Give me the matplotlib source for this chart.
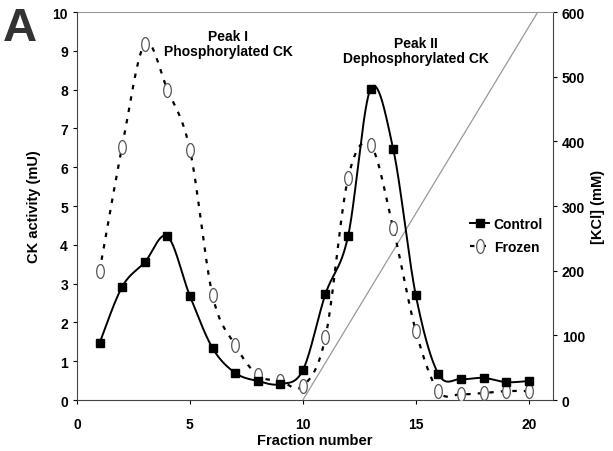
import numpy as np
import matplotlib
matplotlib.use("Agg")
import matplotlib.pyplot as plt
from matplotlib.path import Path
from matplotlib.lines import Line2D

plt.rcParams['font.family'] = ['Liberation Sans', 'DejaVu Sans']
plt.rcParams['font.weight'] = 'bold'

fraction = np.arange(1, 21)
control = [1.47, 2.92, 3.55, 4.22, 2.68, 1.34, 0.7, 0.49, 0.41, 0.77,
           2.73, 4.22, 8.02, 6.47, 2.7, 0.67, 0.54, 0.57, 0.46, 0.49]
frozen = [3.32, 6.53, 9.18, 8.0, 6.45, 2.7, 1.42, 0.64, 0.49, 0.36,
          1.62, 5.72, 6.57, 4.43, 1.78, 0.23, 0.15, 0.18, 0.23, 0.23]
kcl_x = [10, 20.4]
kcl_mm = [0, 600]


def smooth(x, y, n=30):
    # Excel-style smoothed line (Bezier through the points)
    x = np.asarray(x, float)
    y = np.asarray(y, float)
    px = np.concatenate([[x[0]], x, [x[-1]]])
    py = np.concatenate([[y[0]], y, [y[-1]]])
    t = np.linspace(0, 1, n)[:, None]
    xs, ys = [], []
    for i in range(len(x) - 1):
        p0 = np.array([px[i + 1], py[i + 1]])
        p3 = np.array([px[i + 2], py[i + 2]])
        p1 = p0 + (p3 - np.array([px[i], py[i]])) / 6
        p2 = p3 - (np.array([px[i + 3], py[i + 3]]) - p0) / 6
        b = (1 - t) ** 3 * p0 + 3 * (1 - t) ** 2 * t * p1 + 3 * (1 - t) * t ** 2 * p2 + t ** 3 * p3
        xs.append(b[:, 0])
        ys.append(b[:, 1])
    return np.concatenate(xs), np.concatenate(ys)


# tall ellipse marker
th = np.linspace(0, 2 * np.pi, 40)
ellipse = Path(np.column_stack([0.55 * np.cos(th), np.sin(th)]), closed=True)

fig = plt.figure(figsize=(6.13, 4.52), dpi=100)
ax = fig.add_axes([0.1256, 0.1128, 0.776, 0.8584])
ax2 = ax.twinx()

ax2.plot(kcl_x, kcl_mm, color='#999999', lw=0.9, zorder=1)
ax2.set_ylim(0, 600)
ax2.set_yticks(range(0, 601, 100))

sx, sy = smooth(fraction, frozen)
ax.plot(sx, sy, color='black', lw=1.6, linestyle=(0, (2.0, 3.2)), zorder=3)
ax.plot(fraction, frozen, linestyle='none', marker=ellipse, markersize=10,
        markerfacecolor='white', markeredgecolor='#555555', markeredgewidth=0.9, zorder=4)
sx, sy = smooth(fraction, control)
ax.plot(sx, sy, color='black', lw=1.4, zorder=5)
ax.plot(fraction, control, linestyle='none', marker='s', markersize=6.2,
        color='black', zorder=6)

ax.set_zorder(ax2.get_zorder() + 1)
ax.patch.set_visible(False)

ax.set_xlim(0, 21.06)
ax.set_ylim(0, 10)
ax.set_xticks([0, 5, 10, 15, 20])
ax.set_yticks(range(0, 11))

for a in (ax, ax2):
    a.tick_params(labelsize=10, width=0.8, length=3)
    for lab in a.get_xticklabels() + a.get_yticklabels():
        lab.set_fontweight('bold')
ax.tick_params(axis='x', pad=9)
for s in ('top', 'right'):
    ax.spines[s].set_visible(False)
ax2.spines['left'].set_visible(False)
ax2.spines['bottom'].set_visible(False)
ax2.spines['top'].set_color('#999999')
ax2.spines['right'].set_color('#444444')
ax.spines['left'].set_color('#444444')
ax.spines['bottom'].set_color('#444444')

ax.set_xlabel('Fraction number', fontsize=10.5, fontweight='bold', labelpad=2)
ax.set_ylabel('CK activity (mU)', fontsize=10.5, fontweight='bold', labelpad=8)
ax2.set_ylabel('[KCl] (mM)', fontsize=10.5, fontweight='bold', rotation=90, labelpad=4)

ax.text(6.7, 9.2, 'Peak I\nPhosphorylated CK', ha='center', va='center',
        fontsize=10, fontweight='bold', linespacing=1.1)
ax.text(15.0, 9.0, 'Peak II\nDephosphorylated CK', ha='center', va='center',
        fontsize=10, fontweight='bold', linespacing=1.1)

handles = [
    Line2D([], [], color='black', lw=1.4, marker='s', markersize=6.2),
    Line2D([], [], color='black', lw=1.6, linestyle=(0, (2.0, 3.2)), marker=ellipse,
           markersize=10, markerfacecolor='white', markeredgecolor='#555555', markeredgewidth=0.9),
]
ax.legend(handles, ['Control', 'Frozen'], loc='upper left', bbox_to_anchor=(0.8, 0.505),
          frameon=False, handlelength=1.4, handletextpad=0.3, labelspacing=0.7,
          prop={'weight': 'bold', 'size': 10})

fig.text(0.005, 0.985, 'A', fontsize=34, fontweight='bold', color='#333333', va='top', ha='left')

fig.savefig('out.png', dpi=100)
